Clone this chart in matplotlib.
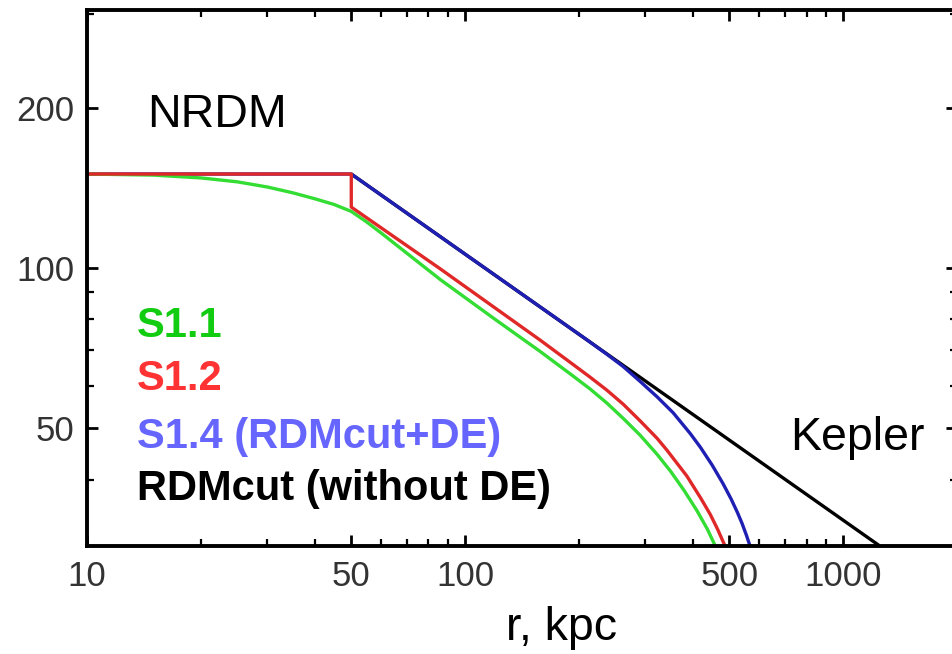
import matplotlib
matplotlib.use("Agg")
import matplotlib.pyplot as plt
from matplotlib.ticker import FixedLocator, NullFormatter

# rotation curves, r in kpc, V in km/s
kepler_r = [50, 1250]
kepler_v = [150, 30]

s14_r = [10, 50, 210, 237, 262, 290, 322, 355, 394, 419, 450, 481, 505, 525, 540, 555, 567]
s14_v = [150, 150, 73.2, 68.8, 65.2, 61.2, 57.2, 53.4, 48.8, 46.0, 42.6, 39.3, 36.8, 34.7,
         33.1, 31.4, 30.0]

s12_r = [10, 50, 50, 86, 158, 193, 214, 237, 262, 290, 322, 342, 386, 420, 445, 465, 487]
s12_v = [150, 150, 130, 99.5, 73.1, 65.8, 62.3, 58.9, 55.4, 51.6, 47.8, 45.4, 40.6, 36.9,
         34.4, 32.3, 30.0]

s11_r = [10, 15, 20, 25, 30, 35, 40, 45, 50, 55, 60, 70, 86, 120, 158, 193, 214, 237,
         262, 290, 322, 350, 380, 410, 437, 459]
s11_v = [150, 149.3, 147.5, 145.0, 141.8, 138.3, 134.8, 131.5, 127.6, 121.8, 116.2, 106.6,
         95.0, 80.0, 69.6, 62.6, 59.2, 55.7, 52.1, 48.5, 44.6, 41.4, 38.1, 35.0, 32.3, 30.0]

x_major = [10, 50, 100, 500, 1000]
x_minor = [20, 30, 40, 60, 70, 80, 90, 200, 300, 400, 600, 700, 800, 900, 2000]
y_major = [50, 100, 200]
y_minor = [40, 60, 70, 80, 90, 300]

labels = [
    ("S1.1", "#11cc11"),
    ("S1.2", "#ff3333"),
    ("S1.4 (RDMcut+DE)", "#6666ff"),
    ("RDMcut (without DE)", "black"),
]

plt.rcParams["font.family"] = ["Liberation Sans", "DejaVu Sans"]

fig = plt.figure(figsize=(9.53, 6.54), dpi=100)
ax = fig.add_axes([87 / 953, 108 / 654, 870 / 953, 536 / 654])

lw = 2.4
ax.plot(kepler_r, kepler_v, color="black", lw=lw, solid_capstyle="butt")
ax.plot(s14_r, s14_v, color="#1f1fb4", lw=lw)
ax.plot(s11_r, s11_v, color="#33dd33", lw=lw)
ax.plot(s12_r, s12_v, color="#e02828", lw=lw)

ax.set_xscale("log")
ax.set_yscale("log")
ax.set_xlim(10, 2000)
ax.set_ylim(30, 305)

ax.xaxis.set_major_locator(FixedLocator(x_major))
ax.xaxis.set_minor_locator(FixedLocator(x_minor))
ax.yaxis.set_major_locator(FixedLocator(y_major))
ax.yaxis.set_minor_locator(FixedLocator(y_minor))
ax.set_xticklabels([str(v) for v in x_major])
ax.set_yticklabels([str(v) for v in y_major])
ax.xaxis.set_minor_formatter(NullFormatter())
ax.yaxis.set_minor_formatter(NullFormatter())

ax.tick_params(which="both", direction="in", top=True, right=True, color="black")
ax.tick_params(which="major", length=8, width=2, labelsize=25, labelcolor="#333333")
ax.tick_params(which="minor", length=5, width=1.6)
ax.tick_params(axis="x", pad=10)
ax.tick_params(axis="y", pad=9)

for sp in ax.spines.values():
    sp.set_linewidth(2.8)

ax.text(0.069, 0.782, "NRDM", transform=ax.transAxes, fontsize=33.5, va="baseline")
ax.text(0.808, 0.179, "Kepler", transform=ax.transAxes, fontsize=33.5, va="baseline")

ys = [0.390, 0.291, 0.183, 0.0858]
for (txt, col), y in zip(labels, ys):
    ax.text(0.0575, y, txt, transform=ax.transAxes, fontsize=30, fontweight="bold",
            color=col, va="baseline")

fig.text(562 / 953, 14 / 654, "r, kpc", fontsize=33.5, ha="center", va="baseline")

fig.savefig("out.png", dpi=100)
